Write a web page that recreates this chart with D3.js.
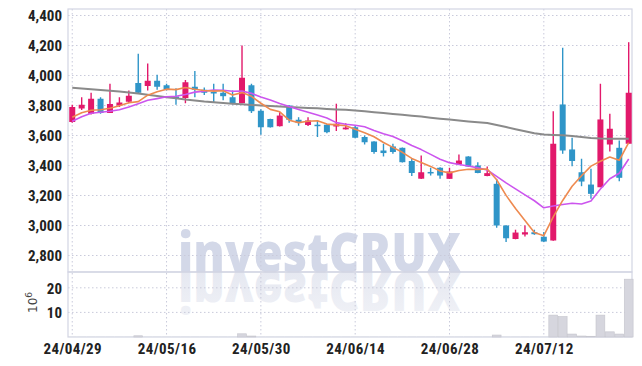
<!DOCTYPE html>
<html><head><meta charset="utf-8">
<script src="https://cdn.jsdelivr.net/npm/d3@7"></script>
<style>
html,body{margin:0;padding:0;background:#fff;}
svg{display:block;}
.lbl{font-family:'Liberation Sans Narrow','Roboto Condensed','DejaVu Sans Condensed',sans-serif;font-weight:bold;font-size:15px;fill:#222;}
</style></head>
<body>
<svg id="c" width="642" height="366"></svg>
<script>
const dates = ['24/04/29','24/04/30','24/05/02','24/05/03','24/05/07','24/05/08','24/05/09','24/05/10','24/05/13','24/05/14',
'24/05/16','24/05/17','24/05/20','24/05/21','24/05/22','24/05/23','24/05/24','24/05/27','24/05/28','24/05/29',
'24/05/30','24/05/31','24/06/03','24/06/04','24/06/05','24/06/07','24/06/10','24/06/11','24/06/12','24/06/13',
'24/06/14','24/06/17','24/06/18','24/06/19','24/06/20','24/06/21','24/06/24','24/06/25','24/06/26','24/06/27',
'24/06/28','24/07/01','24/07/02','24/07/03','24/07/04','24/07/05','24/07/08','24/07/09','24/07/10','24/07/11',
'24/07/12','24/07/15','24/07/16','24/07/17','24/07/18','24/07/19','24/07/22','24/07/23','24/07/24','24/07/25'];
const open  = [3690,3780,3745,3845,3750,3800,3825,3950,3930,3965, 3935,3860,3850,3925,3905,3890,3885,3855,3815,3935,
 3765,3710,3662,3800,3705,3670,3672,3672,3660,3641, 3655,3590,3560,3500,3527,3518,3430,3312,3357,3385,
 3311,3407,3460,3400,3330,3278,3000,2910,2940,2955, 2925,2900,3807,3507,3355,3273,3255,3540,3518,3545];
const high  = [3805,3855,3885,3855,3945,3855,3900,4145,4080,4005, 3945,3915,3970,4030,3920,3945,3945,3900,4200,3945,
 3775,3712,3755,3802,3722,3722,3700,3675,3812,3682, 3665,3600,3562,3545,3545,3520,3445,3467,3385,3388,
 3385,3473,3462,3422,3393,3311,3002,2972,3000,2972, 2956,3762,4185,3585,3445,3378,3945,3745,3567,4222];
const low   = [3685,3770,3740,3745,3750,3790,3815,3880,3900,3905, 3900,3805,3815,3855,3870,3820,3835,3807,3815,3750,
 3605,3653,3660,3685,3665,3664,3590,3615,3630,3640, 3582,3540,3478,3460,3478,3420,3330,3310,3333,3311,
 3310,3405,3390,3348,3328,2985,2890,2908,2927,2938, 2890,2898,3478,3395,3262,3178,3255,3493,3295,3545];
const close = [3790,3805,3845,3750,3810,3820,3865,3885,3965,3925, 3905,3850,3955,3905,3885,3885,3862,3812,3985,3762,
 3655,3655,3733,3705,3683,3700,3670,3622,3678,3653, 3585,3555,3490,3483,3490,3422,3350,3355,3355,3333,
 3360,3433,3393,3350,3349,3000,2915,2953,2955,2942, 2893,3545,3500,3430,3293,3211,3707,3645,3318,3885];
const ma5   = [3722,3752,3768,3772,3782,3798,3818,3826,3869,3892, 3909,3906,3920,3908,3900,3896,3898,3870,3886,3861,
 3815,3774,3758,3702,3686,3695,3698,3676,3671,3665, 3642,3619,3592,3553,3521,3488,3447,3420,3394,3363,
 3351,3367,3375,3374,3377,3305,3201,3113,3034,2953, 2932,3058,3167,3262,3332,3396,3428,3457,3435,3553];
const ma10  = [3695,3725,3748,3755,3762,3772,3790,3812,3835,3846, 3858,3862,3873,3889,3896,3903,3902,3895,3897,3881,
 3856,3836,3814,3794,3774,3755,3736,3717,3686,3675, 3668,3658,3634,3612,3593,3565,3533,3506,3474,3442,
 3419,3407,3397,3384,3370,3328,3284,3244,3204,3165, 3118,3130,3140,3148,3143,3164,3243,3312,3348,3443];
const maLong= [3918,3913,3908,3903,3898,3893,3887,3880,3872,3863, 3855,3848,3840,3834,3826,3821,3817,3812,3808,3804,
 3800,3797,3794,3790,3787,3784,3781,3777,3774,3771, 3766,3761,3755,3750,3744,3738,3732,3726,3719,3712,
 3706,3700,3694,3688,3683,3670,3656,3642,3628,3615, 3606,3603,3601,3597,3590,3583,3580,3579,3578,3578];
const volume= [0.1,0.1,0.1,0.1,0.1,0.1,0.1,0.5,0.1,0.1, 0.1,0.1,0.1,0.1,0.1,0.1,0.1,0.1,1.3,0.4,
 0.1,0.1,0.1,0.1,0.1,0.1,0.1,0.1,0.1,0.1, 0.1,0.1,0.1,0.1,0.1,0.1,0.1,0.1,0.1,0.1,
 0.1,0.1,0.1,0.1,0.1,0.8,0.1,0.1,0.1,0.1, 0.1,8.9,8.3,1.2,0.4,0.3,8.9,2.1,1.2,23.5];
const priceTicks = [2800,3000,3200,3400,3600,3800,4000,4200,4400];
const volTicks = [10,20];
const dateTickIdx = [0,10,20,30,40,50];

const svg = d3.select('#c');
const L=68, R=632, PT=9, PB=272, VB=337;
const x = d3.scaleLinear().domain([-0.45, 59.35]).range([L, R]);
const yP = d3.scaleLinear().domain([2800, 4400]).range([255.5, 15.5]);
const yV = d3.scaleLinear().domain([0, 20]).range([VB, 287.8]);
const step = x(1) - x(0);
const UP='#e2196b', DN='#2f95c8', GRID='#c9cadb', FRAME='#d3d5e3';

svg.append('rect').attr('width',642).attr('height',366).attr('fill','#fff');

// watermark
const wm = svg.append('g');
const defs = svg.append('defs');
const grad = defs.append('linearGradient').attr('id','fade').attr('x1',0).attr('y1',1).attr('x2',0).attr('y2',0);
grad.append('stop').attr('offset','0%').attr('stop-color','#e2e5ef');
grad.append('stop').attr('offset','100%').attr('stop-color','#f3f4f8');
const wmFont = "'Open Sans','DejaVu Sans',sans-serif";
wm.append('text').attr('x',178).attr('y',272)
  .attr('textLength',283).attr('lengthAdjust','spacingAndGlyphs')
  .style('font-family',wmFont).style('font-weight','800').style('font-size','54px')
  .attr('fill','#d3d8e8').text('investCRUX');
wm.append('text').attr('transform','translate(0,544) scale(1,-1)').attr('x',178).attr('y',272)
  .attr('textLength',283).attr('lengthAdjust','spacingAndGlyphs')
  .style('font-family',wmFont).style('font-weight','800').style('font-size','54px')
  .attr('fill','url(#fade)').text('investCRUX');

// grids
const g = svg.append('g');
g.selectAll('.hg').data(priceTicks).join('line')
  .attr('x1',L).attr('x2',R).attr('y1',d=>yP(d)).attr('y2',d=>yP(d))
  .attr('stroke',GRID).attr('stroke-width',1).attr('stroke-dasharray','1.5,2.5');
g.selectAll('.vg').data(volTicks).join('line')
  .attr('x1',L).attr('x2',R).attr('y1',d=>yV(d)).attr('y2',d=>yV(d))
  .attr('stroke',GRID).attr('stroke-width',1).attr('stroke-dasharray','1.5,2.5');
g.selectAll('.xg').data(dateTickIdx).join('line')
  .attr('x1',d=>x(d)).attr('x2',d=>x(d)).attr('y1',PT).attr('y2',VB)
  .attr('stroke',GRID).attr('stroke-width',1).attr('stroke-dasharray','1.5,2.5');

// frames
svg.append('rect').attr('x',L).attr('y',PT).attr('width',R-L).attr('height',PB-PT)
  .attr('fill','none').attr('stroke',FRAME).attr('stroke-width',1.2);
svg.append('rect').attr('x',L).attr('y',PB).attr('width',R-L).attr('height',VB-PB)
  .attr('fill','none').attr('stroke',FRAME).attr('stroke-width',1.2);

// volume bars
const idx = d3.range(dates.length);
svg.append('g').selectAll('rect').data(idx).join('rect')
  .attr('x',i=>x(i)-step/2+0.3).attr('width',step-0.6)
  .attr('y',i=>yV(volume[i])).attr('height',i=>VB-yV(volume[i]))
  .attr('fill','#d6d6de')
  .attr('stroke',i=>volume[i]>=0.3?'#c4c4cc':'none').attr('stroke-width',0.6);

// candles
const cg = svg.append('g');
cg.selectAll('line').data(idx).join('line')
  .attr('x1',i=>x(i)).attr('x2',i=>x(i))
  .attr('y1',i=>yP(high[i])).attr('y2',i=>yP(low[i]))
  .attr('stroke',i=>close[i]>=open[i]?UP:DN).attr('stroke-width',1.4);
cg.selectAll('rect').data(idx).join('rect')
  .attr('x',i=>x(i)-3).attr('width',6)
  .attr('y',i=>yP(Math.max(open[i],close[i])))
  .attr('height',i=>Math.max(1.5, Math.abs(yP(open[i])-yP(close[i]))))
  .attr('fill',i=>close[i]>=open[i]?UP:DN);

// moving averages
function drawLine(arr, color, w){
  svg.append('path').datum(idx)
    .attr('d', d3.line().x(i=>x(i)).y(i=>yP(arr[i])))
    .attr('fill','none').attr('stroke',color).attr('stroke-width',w).attr('stroke-linejoin','round');
}
drawLine(maLong,'#8a8a8a',2);
drawLine(ma10,'#cc55ee',1.6);
drawLine(ma5,'#ee8a50',1.6);

// axes labels
const ax = svg.append('g').attr('transform',`translate(${L-6},0)`)
  .call(d3.axisLeft(yP).tickValues(priceTicks).tickSize(0).tickPadding(0).tickFormat(d3.format(',')));
ax.select('.domain').remove();
ax.selectAll('text').attr('class','lbl').attr('dy','0.36em');
const av = svg.append('g').attr('transform',`translate(${L-6},0)`)
  .call(d3.axisLeft(yV).tickValues(volTicks).tickSize(0).tickPadding(0));
av.select('.domain').remove();
av.selectAll('text').attr('class','lbl').attr('dy','0.36em');
const axx = svg.append('g').attr('transform',`translate(0,${VB})`)
  .call(d3.axisBottom(x).tickValues(dateTickIdx).tickSize(0).tickPadding(0).tickFormat(i=>dates[i]));
axx.select('.domain').remove();
axx.selectAll('text').attr('class','lbl').attr('dy','0').attr('y',17).style('letter-spacing','0.4px');
svg.selectAll('.tick text').style('font-family',"'Liberation Sans Narrow','Roboto Condensed','DejaVu Sans Condensed',sans-serif")
  .style('font-weight','bold').style('font-size','15px').attr('fill','#222');

// 10^6 unit label
const u = svg.append('text').attr('transform','translate(37,313) rotate(-90)')
  .style('font-family','DejaVu Sans').style('font-size','12px').attr('fill','#444');
u.append('tspan').text('10');
u.append('tspan').attr('dy',-5).style('font-size','9px').text('6');
</script>
</body></html>
